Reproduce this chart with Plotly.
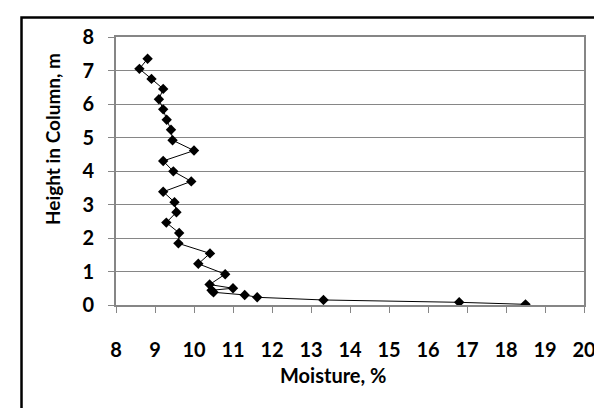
import plotly.graph_objects as go

# Data
moisture = [8.81, 8.60, 8.91, 9.21, 9.10, 9.21, 9.30, 9.41, 9.45, 10.00,
            9.21, 9.47, 9.93, 9.21, 9.50, 9.55, 9.29, 9.62, 9.60, 10.41,
            10.11, 10.80, 10.40, 11.00, 10.45, 10.50, 11.30, 11.62, 13.32,
            16.80, 18.50]
height = [7.35, 7.05, 6.75, 6.45, 6.14, 5.84, 5.53, 5.23, 4.92, 4.61,
          4.30, 3.99, 3.69, 3.38, 3.07, 2.77, 2.46, 2.15, 1.84, 1.54,
          1.23, 0.92, 0.61, 0.50, 0.44, 0.38, 0.30, 0.23, 0.15,
          0.08, 0.02]
x_ticks = list(range(8, 21))
y_ticks = list(range(0, 9))
x_title = "Moisture, %"
y_title = "Height in Column, m"

FONT = "Lato, 'Open Sans', sans-serif"
FSIZE = 20

fig = go.Figure()
fig.add_trace(go.Scatter(
    x=moisture, y=height, mode="lines+markers",
    line=dict(color="black", width=1),
    marker=dict(symbol="diamond", size=8, color="black"),
    showlegend=False,
))

axis_common = dict(
    showline=True, linecolor="#868686", linewidth=2, mirror=True,
    ticks="outside", ticklen=6, tickcolor="#868686", tickwidth=1,
    tickfont=dict(family=FONT, size=FSIZE, color="black", weight="bold"),
    zeroline=False,
)

fig.update_xaxes(range=[8, 20], tickvals=x_ticks, ticktext=[str(v) for v in x_ticks],
                 showgrid=False, ticklabelstandoff=20, **axis_common)
fig.update_yaxes(range=[0, 8], tickvals=y_ticks, ticktext=[str(v) for v in y_ticks],
                 showgrid=True, gridcolor="#868686", gridwidth=1,
                 ticklabelstandoff=10, **axis_common)

fig.add_annotation(text=x_title, xref="paper", yref="paper",
                   x=0.4637, y=-0.261, showarrow=False,
                   xanchor="center", yanchor="middle",
                   font=dict(family=FONT, size=FSIZE, color="black", weight="bold"))
fig.add_annotation(text=y_title, xref="paper", yref="paper",
                   x=-0.1368, y=0.619, showarrow=False, textangle=-90,
                   xanchor="center", yanchor="middle",
                   font=dict(family=FONT, size=19, color="black", weight="bold"))

# outer chart border
fig.add_shape(type="rect", xref="paper", yref="paper",
              x0=-0.2019, x1=1.0524, y0=-0.6, y1=1.0728,
              line=dict(color="black", width=2.5), fillcolor="rgba(0,0,0,0)")

fig.update_layout(
    width=602, height=408,
    margin=dict(l=108, r=26, t=29, b=111),
    paper_bgcolor="white", plot_bgcolor="white",
)

fig.write_html("out.html")
